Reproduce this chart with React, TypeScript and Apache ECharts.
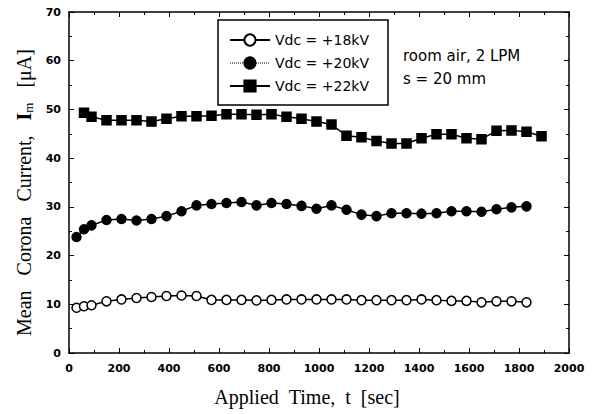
import React, { useEffect, useRef } from "react";
import * as echarts from "echarts";

const times18 = [30, 60, 90, 150, 210, 270, 330, 390, 450, 510, 570, 630, 690, 750, 810, 870, 930, 990, 1050, 1110, 1170, 1230, 1290, 1350, 1410, 1470, 1530, 1590, 1650, 1710, 1770, 1830];
const values18 = [9.3, 9.6, 9.8, 10.6, 11.0, 11.3, 11.5, 11.7, 11.8, 11.7, 10.9, 10.9, 10.9, 10.8, 10.9, 11.0, 11.0, 11.0, 11.0, 11.0, 10.85, 10.85, 10.85, 10.85, 11.0, 10.85, 10.7, 10.7, 10.4, 10.6, 10.6, 10.4];
const times20 = [30, 60, 90, 150, 210, 270, 330, 390, 450, 510, 570, 630, 690, 750, 810, 870, 930, 990, 1050, 1110, 1170, 1230, 1290, 1350, 1410, 1470, 1530, 1590, 1650, 1710, 1770, 1830];
const values20 = [23.8, 25.4, 26.2, 27.3, 27.5, 27.2, 27.5, 28.1, 29.1, 30.3, 30.6, 30.8, 31.0, 30.3, 30.8, 30.6, 30.2, 29.6, 30.3, 29.4, 28.4, 28.1, 28.7, 28.7, 28.6, 28.7, 29.1, 29.1, 29.0, 29.5, 29.9, 30.1];
const times22 = [60, 90, 150, 210, 270, 330, 390, 450, 510, 570, 630, 690, 750, 810, 870, 930, 990, 1050, 1110, 1170, 1230, 1290, 1350, 1410, 1470, 1530, 1590, 1650, 1710, 1770, 1830, 1890];
const values22 = [49.3, 48.5, 47.8, 47.8, 47.8, 47.5, 48.1, 48.6, 48.6, 48.7, 49.0, 49.0, 48.9, 49.0, 48.5, 48.1, 47.5, 46.9, 44.6, 44.3, 43.5, 43.0, 43.0, 44.1, 44.9, 44.9, 44.1, 43.9, 45.6, 45.7, 45.4, 44.5];
const seriesNames = ["Vdc = +18kV", "Vdc = +20kV", "Vdc = +22kV"];
const annotation = "room air, 2 LPM\ns = 20 mm";
const xTitle = "Applied\u00a0\u00a0Time,\u00a0\u00a0t\u00a0\u00a0[sec]";
const yTitle = "Mean\u00a0\u00a0\u00a0Corona\u00a0\u00a0\u00a0Current,\u00a0\u00a0\u00a0{b|I}{s|m}\u00a0\u00a0\u00a0[μA]";

const pairs = (t: number[], v: number[]) => t.map((x, i) => [x, v[i]]);

export default function App() {
  const ref = useRef<HTMLDivElement>(null);
  useEffect(() => {
    if (!ref.current) return;
    const chart = echarts.init(ref.current, null, { renderer: "svg" });
    const sans = "DejaVu Sans";
    const serif = "Liberation Serif";
    const axisLine = { show: true, onZero: false, lineStyle: { color: "#000", width: 1.5 } };
    const tick = { show: true, inside: true, length: 5, lineStyle: { color: "#000", width: 1 } };
    const minor = { show: true, splitNumber: 2, length: 3, lineStyle: { color: "#000", width: 1 } };
    const tickLabel = { color: "#000", fontFamily: sans, fontWeight: "bold", fontSize: 11, formatter: (v: number) => String(v) };
    const lineCommon = {
      type: "line" as const,
      symbolSize: 9,
      lineStyle: { color: "#000", width: 1.5 },
      itemStyle: { color: "#000", borderColor: "#000", borderWidth: 1.5 },
      z: 3,
    };
    chart.setOption({
      animation: false,
      backgroundColor: "#fff",
      grid: { left: 69, right: 27, top: 12, bottom: 61 },
      xAxis: [
        {
          type: "value", min: 0, max: 2000, interval: 200,
          axisLine, axisTick: tick, minorTick: minor, splitLine: { show: false },
          axisLabel: { ...tickLabel, margin: 10 },
          name: xTitle, nameLocation: "middle", nameGap: 34,
          nameTextStyle: { color: "#000", fontFamily: serif, fontSize: 20, padding: [0, 24, 0, 0] },
        },
        {
          type: "value", min: 0, max: 2000, interval: 200, position: "top",
          axisLine, axisTick: tick, minorTick: minor, splitLine: { show: false }, axisLabel: { show: false },
        },
      ],
      yAxis: [
        {
          type: "value", min: 0, max: 70, interval: 10,
          axisLine, axisTick: tick, minorTick: minor, splitLine: { show: false },
          axisLabel: { ...tickLabel, margin: 8 },
          name: yTitle, nameLocation: "middle", nameGap: 33,
          nameTextStyle: {
            color: "#000", fontFamily: serif, fontSize: 20, padding: [0, 20, 0, 0],
            rich: {
              b: { fontFamily: serif, fontSize: 20, fontWeight: "bold", color: "#000" },
              s: { fontFamily: serif, fontSize: 13, color: "#000", padding: [8, 0, 0, 0] },
            },
          },
        },
        {
          type: "value", min: 0, max: 70, interval: 10, position: "right",
          axisLine, axisTick: tick, minorTick: minor, splitLine: { show: false }, axisLabel: { show: false },
        },
      ],
      legend: {
        orient: "vertical", left: 218, top: 20,
        borderColor: "#000", borderWidth: 1.5, borderRadius: 0,
        padding: [13, 19, 12, 11], itemGap: 9, itemWidth: 40, itemHeight: 14,
        textStyle: { color: "#000", fontFamily: sans, fontSize: 14, lineHeight: 14 },
        data: [
          { name: seriesNames[0] },
          { name: seriesNames[1], lineStyle: { type: "dotted", width: 1 } },
          { name: seriesNames[2] },
        ],
      },
      graphic: [
        {
          type: "text", left: 403, top: 44,
          style: { text: annotation, fill: "#000", fontFamily: sans, fontSize: 15, lineHeight: 23 },
        },
      ],
      series: [
        { ...lineCommon, name: seriesNames[0], symbol: "circle", itemStyle: { color: "#fff", borderColor: "#000", borderWidth: 1.5 }, data: pairs(times18, values18) },
        { ...lineCommon, name: seriesNames[1], symbol: "circle", data: pairs(times20, values20) },
        { ...lineCommon, name: seriesNames[2], symbol: "rect", symbolSize: 9, data: pairs(times22, values22) },
      ],
    });
    return () => chart.dispose();
  }, []);
  return <div ref={ref} style={{ width: 596, height: 414, position: "absolute", left: 0, top: 0 }} />;
}
